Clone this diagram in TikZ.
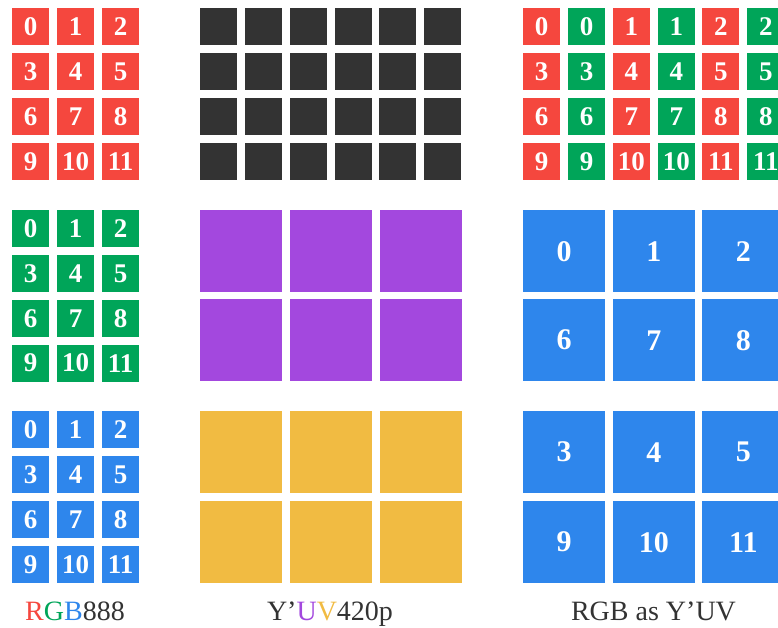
\documentclass[tikz,border=0pt]{standalone}
\usepackage{fontspec}
\setmainfont{Liberation Serif}
\definecolor{cred}{HTML}{F5473E}
\definecolor{cgreen}{HTML}{00A559}
\definecolor{cblue}{HTML}{2E86EC}
\definecolor{cdark}{HTML}{333333}
\definecolor{cpurple}{HTML}{A348DE}
\definecolor{cyellow}{HTML}{F1BB42}
\begin{document}
\begin{tikzpicture}[x=1pt,y=-1pt,
  box/.style={inner sep=0pt, minimum width=37pt, minimum height=37pt, anchor=north west, text=white, font=\fontsize{27}{27}\selectfont\bfseries},
  big/.style={box, minimum width=82pt, minimum height=82pt, font=\fontsize{30}{30}\selectfont\bfseries},
  lbl/.style={anchor=base, inner sep=0pt, font=\fontsize{28}{28}\selectfont, text=cdark}]
\useasboundingbox (0,0) rectangle (778,628);
\clip (0,0) rectangle (778,628);
% left: RGB888 planes
\foreach \r in {0,...,3} {
  \foreach \c in {0,...,2} {
    \pgfmathtruncatemacro\n{\r*3+\c}
    \node[box,fill=cred]   (r\n) at ({12+45*\c},{8+45*\r}) {\n};
    \node[box,fill=cgreen] (g\n) at ({12+45*\c},{210+44.8*\r}) {\n};
    \node[box,fill=cblue]  (b\n) at ({12+45*\c},{411+45*\r}) {\n};
  }
}
% middle: Y plane
\foreach \r in {0,...,3} {
  \foreach \c in {0,...,5} {
    \node[box,fill=cdark] (y\r\c) at ({200+44.8*\c},{8+45*\r}) {};
  }
}
% middle: U and V planes
\foreach \r in {0,1} {
  \foreach \c in {0,...,2} {
    \node[big,fill=cpurple] (u\r\c) at ({200+90*\c},{210+89*\r}) {};
    \node[big,fill=cyellow] (v\r\c) at ({200+90*\c},{411+90*\r}) {};
  }
}
% right: RGB as Y'UV
\foreach \r in {0,...,3} {
  \foreach \c in {0,...,2} {
    \pgfmathtruncatemacro\n{\r*3+\c}
    \node[box,fill=cred]   (ry\n) at ({523+89.6*\c},{8+45*\r}) {\n};
    \node[box,fill=cgreen] (gy\n) at ({568+89.6*\c},{8+45*\r}) {\n};
  }
}
\foreach \r in {0,1} {
  \foreach \c in {0,...,2} {
    \pgfmathtruncatemacro\n{\r*6+\c}
    \pgfmathtruncatemacro\m{\r*6+3+\c}
    \node[big,fill=cblue] (bu\n) at ({523+89.6*\c},{210+89*\r}) {\n};
    \node[big,fill=cblue] (bv\m) at ({523+89.6*\c},{411+90*\r}) {\m};
  }
}
% labels
\node[lbl] (l1) at (75,620) {\textcolor{cred}{R}\textcolor{cgreen}{G}\textcolor{cblue}{B}888};
\node[lbl] (l2) at (330,620) {Y’\textcolor{cpurple}{U}\textcolor{cyellow}{V}420p};
\node[lbl] (l3) at (653.5,620) {RGB as Y’UV};
\end{tikzpicture}
\end{document}
